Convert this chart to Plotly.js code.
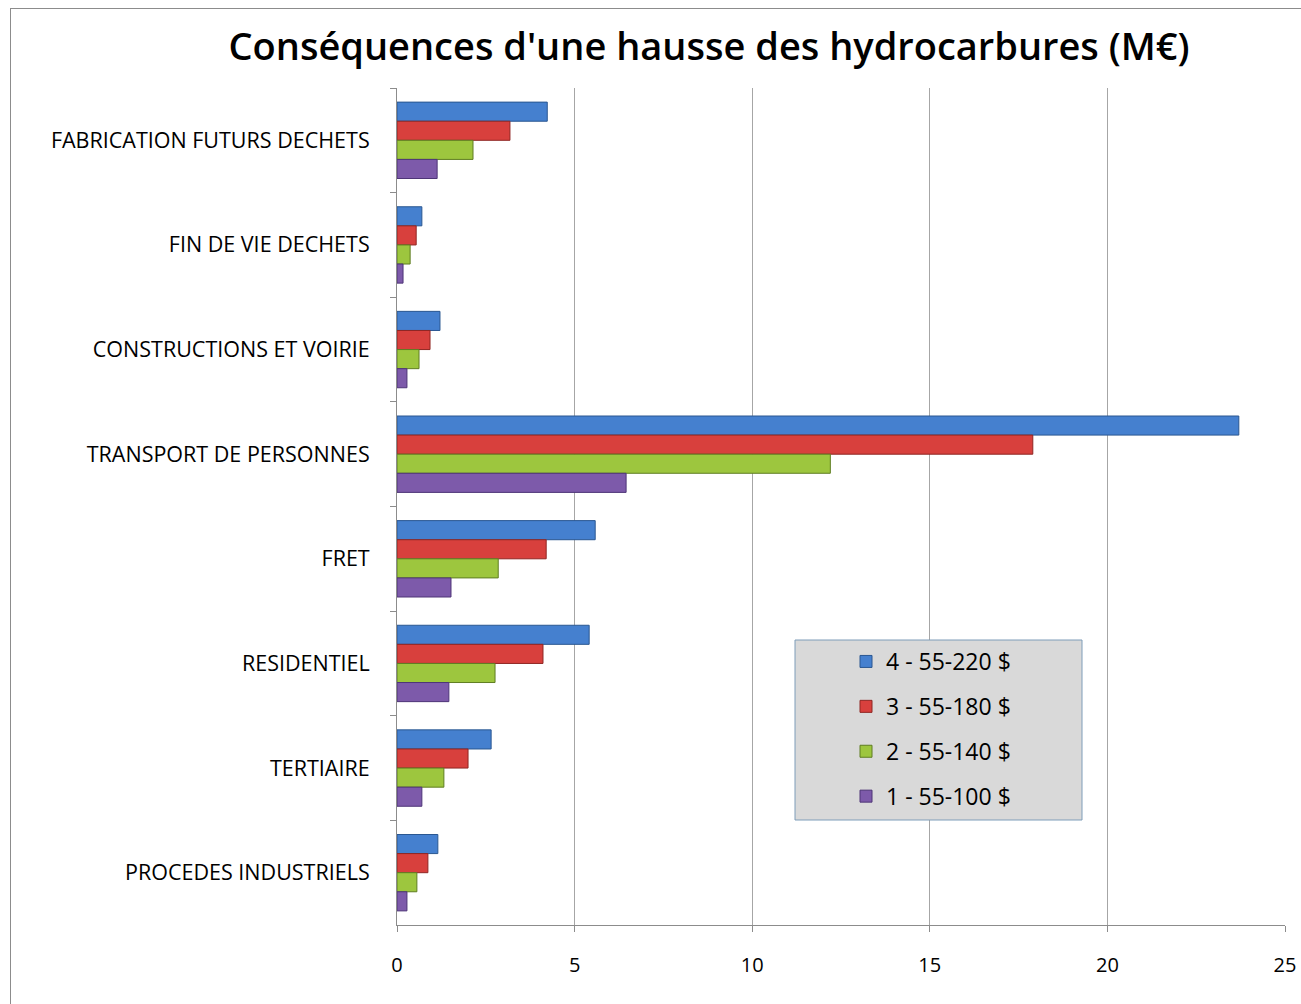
<!DOCTYPE html>
<html>
<head>
<meta charset="utf-8">
<script src="https://cdn.plot.ly/plotly-3.0.1.min.js"></script>
<style>
html,body{margin:0;padding:0;background:#fff;}
#frame{position:absolute;left:10px;top:8px;width:1300px;height:1000px;border:1px solid #8c8c8c;box-sizing:border-box;}
#chart{position:absolute;left:0;top:0;width:1301px;height:1004px;}
</style>
</head>
<body>
<div id="frame"></div>
<div id="chart"></div>
<script>
// Categories, top to bottom
const categories = [
  "FABRICATION FUTURS DECHETS",
  "FIN DE VIE DECHETS",
  "CONSTRUCTIONS ET VOIRIE",
  "TRANSPORT DE PERSONNES",
  "FRET",
  "RESIDENTIEL",
  "TERTIAIRE",
  "PROCEDES INDUSTRIELS"
];
const seriesNames = ["4 - 55-220 $", "3 - 55-180 $", "2 - 55-140 $", "1 - 55-100 $"];
const s4 = [4.23, 0.70, 1.21, 23.7, 5.58, 5.41, 2.65, 1.15];
const s3 = [3.18, 0.54, 0.93, 17.9, 4.20, 4.11, 2.00, 0.87];
const s2 = [2.14, 0.37, 0.62, 12.2, 2.85, 2.76, 1.32, 0.56];
const s1 = [1.13, 0.17, 0.28, 6.45, 1.52, 1.46, 0.70, 0.28];
const xTicks = [0, 5, 10, 15, 20, 25];

const seriesValues = [s4, s3, s2, s1];
const fills = ["#4580cf", "#d8403d", "#9dc63e", "#7d5aaa"];
const edges = ["#2a5791", "#8f2623", "#5f7d22", "#4e3577"];

const font = "'Open Sans', 'Liberation Sans', sans-serif";

const traces = seriesValues.map((vals, i) => ({
  type: "bar",
  orientation: "h",
  name: seriesNames[i],
  legendgroup: "g" + i,
  x: vals,
  y: categories,
  marker: {color: fills[i], line: {color: edges[i], width: 1}},
  hoverinfo: "x+y"
}));

// pixel helpers for plot area
const L = 397, R = 1285, T = 88, B = 925, W = 1301, H = 1004;
const px = (x) => (x - L) / (R - L);
const py = (y) => (B - y) / (B - T);

const layout = {
  width: W, height: H,
  margin: {l: L, r: W - R, t: T, b: H - B, pad: 0},
  paper_bgcolor: "rgba(0,0,0,0)",
  plot_bgcolor: "rgba(0,0,0,0)",
  barmode: "group",
  bargap: 0.27,
  bargroupgap: 0,
  font: {family: font, color: "#000"},
  title: {
    text: "Conséquences d'une hausse des hydrocarbures (M€)",
    font: {family: font, size: 38, color: "#000", weight: 600},
    x: 709 / W, xanchor: "center", xref: "container",
    y: 1 - 47 / H, yanchor: "middle", yref: "container"
  },
  xaxis: {
    range: [0, 25],
    tickvals: xTicks,
    ticktext: xTicks.map(String),
    showgrid: true, gridcolor: "#a6a6a6", gridwidth: 1,
    zeroline: false,
    showline: true, linecolor: "#8c8c8c", linewidth: 1,
    ticks: "outside", ticklen: 6, tickcolor: "#8c8c8c",
    ticklabelstandoff: 16,
    tickfont: {family: font, size: 20, color: "#000"},
    fixedrange: true
  },
  yaxis: {
    type: "category",
    categoryorder: "array",
    categoryarray: categories,
    autorange: "reversed",
    showgrid: false, zeroline: false,
    showline: true, linecolor: "#8c8c8c", linewidth: 1,
    ticks: "outside", ticklen: 6, tickcolor: "#8c8c8c",
    tickson: "boundaries",
    ticklabelstandoff: 22,
    tickfont: {family: font, size: 21.5, color: "#000"},
    fixedrange: true
  },
  showlegend: true,
  legend: {
    x: px(846), xanchor: "left",
    y: py(640), yanchor: "top",
    bgcolor: "rgba(0,0,0,0)",
    borderwidth: 0,
    font: {family: font, size: 23, color: "#000"},
    itemwidth: 30,
    tracegroupgap: 12,
    traceorder: "grouped"
  },
  shapes: [{
    type: "rect", xref: "paper", yref: "paper", layer: "above",
    x0: px(795), x1: px(1082), y0: py(820), y1: py(640),
    fillcolor: "#d9d9d9", line: {color: "#7f9db9", width: 1}
  }]
};

Plotly.newPlot("chart", traces, layout, {displayModeBar: false, staticPlot: true});
</script>
</body>
</html>
